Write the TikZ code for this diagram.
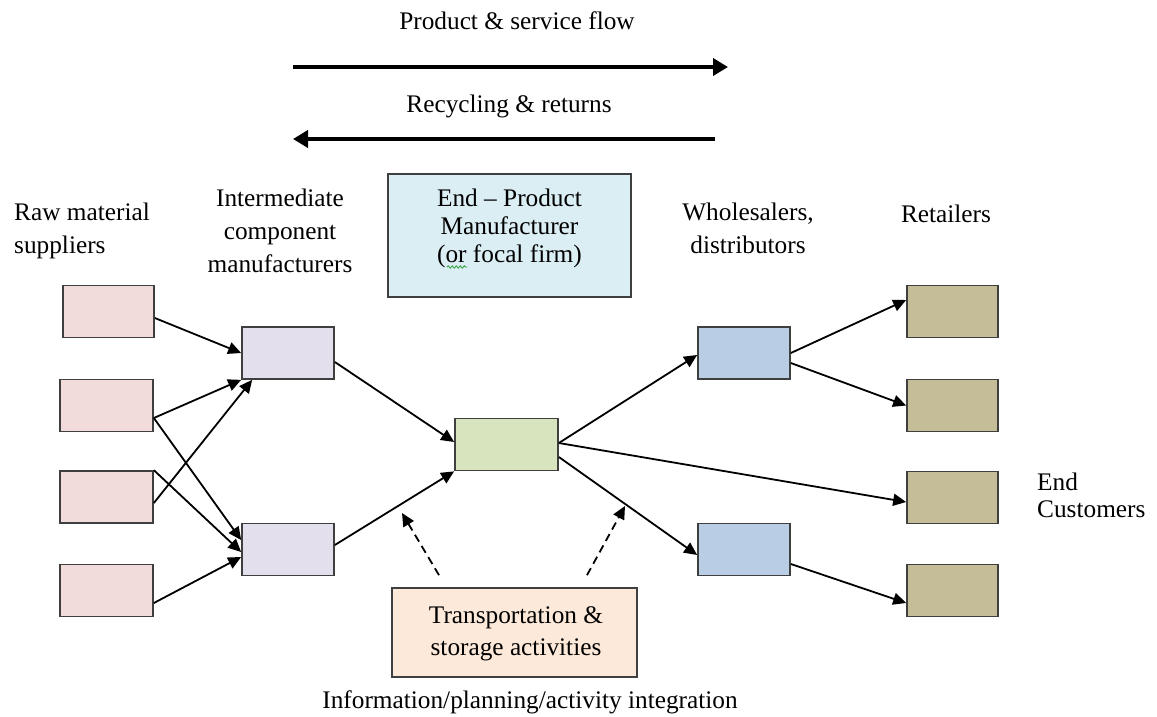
\documentclass[tikz,border=0pt]{standalone}
\usepackage{fontspec}
\setmainfont{Liberation Serif}
\usetikzlibrary{arrows.meta,decorations.pathmorphing}

\definecolor{boxline}{HTML}{3F3F3F}
\definecolor{rawfill}{HTML}{F2DCDB}
\definecolor{midfill}{HTML}{E4DFEC}
\definecolor{focalfill}{HTML}{D7E4BD}
\definecolor{distfill}{HTML}{B9CDE5}
\definecolor{retailfill}{HTML}{C4BD97}
\definecolor{headfill}{HTML}{DBEEF4}
\definecolor{transfill}{HTML}{FDE9D9}
\definecolor{spellgreen}{HTML}{2E9E3E}

\begin{document}
\begin{tikzpicture}[x=1pt,y=-1pt,
  box/.style={draw=boxline, line width=1.7pt, inner sep=0pt,
              minimum width=91pt, minimum height=52pt},
  flow/.style={-{Triangle[length=13pt,width=12pt]}, line width=1.8pt},
  support/.style={flow, dash pattern=on 8pt off 5pt},
  bigflow/.style={-{Triangle[length=15pt,width=17pt]}, line width=4pt},
  lbl/.style={inner sep=0pt, anchor=base, font=\fontsize{25.3}{33}\selectfont},
]
\useasboundingbox (0,0) rectangle (1157,716);

% ---- headline flows ----
\coordinate (pfA) at (293,67);
\coordinate (pfB) at (728,67);
\coordinate (rrA) at (715,139);
\coordinate (rrB) at (293,139);
\node[lbl] (pflabel) at (517,29) {Product \& service flow};
\draw[bigflow] (pfA) -- (pfB);
\node[lbl] (rrlabel) at (509,112) {Recycling \& returns};
\draw[bigflow] (rrA) -- (rrB);

% ---- tier captions (base = baseline of the last line) ----
\node[lbl, align=left, anchor=base west] (rawcap) at (14,253) {Raw material\\suppliers};
\node[lbl, align=center] (midcap) at (280,272) {Intermediate\\component\\manufacturers};
\node[lbl, align=center] (distcap) at (748,253) {Wholesalers,\\distributors};
\node[lbl] (retcap) at (946,222) {Retailers};
\node[lbl, align=left, anchor=base west, font=\fontsize{25.3}{27}\selectfont] (custcap) at (1037,517) {End\\Customers};
\node[lbl] (infocap) at (530,708) {Information/planning/activity integration};

% ---- focal firm caption box ----
\node[box, fill=headfill, minimum width=243pt, minimum height=123pt] (focalcap) at (509.5,235.5) {};
\node[lbl, align=center, font=\fontsize{25.3}{28}\selectfont] (focaltext) at (509.5,262)
  {End – Product\\Manufacturer\\(or focal firm)};
\draw[spellgreen, line width=0.8pt, decorate,
      decoration={snake, amplitude=1.2pt, segment length=4pt}] (447,267) -- (467,267);

% ---- supply chain boxes ----
\node[box, fill=rawfill] (raw1) at (108.5,311.5) {};
\node[box, fill=rawfill, minimum width=93pt] (raw2) at (106.5,405.5) {};
\node[box, fill=rawfill, minimum width=93pt] (raw3) at (106.5,497) {};
\node[box, fill=rawfill, minimum width=93pt] (raw4) at (106.5,590.5) {};

\node[box, fill=midfill, minimum width=92pt] (mid1) at (288,353) {};
\node[box, fill=midfill, minimum width=92pt] (mid2) at (288,549.5) {};

\node[box, fill=focalfill, minimum width=103pt] (focal) at (506.5,444.5) {};

\node[box, fill=distfill, minimum width=92pt] (dist1) at (744,353) {};
\node[box, fill=distfill, minimum width=92pt] (dist2) at (744,549.5) {};

\node[box, fill=retailfill] (ret1) at (952.5,311.5) {};
\node[box, fill=retailfill] (ret2) at (952.5,405.5) {};
\node[box, fill=retailfill] (ret3) at (952.5,497.5) {};
\node[box, fill=retailfill] (ret4) at (952.5,590.5) {};

\node[box, fill=transfill, minimum width=245pt, minimum height=89pt] (trans) at (514.5,632.5) {};
\node[lbl, align=center, font=\fontsize{25.3}{32}\selectfont] (transtext) at (516,655)
  {Transportation \&\\storage activities};

% ---- material flows ----
\draw[flow] ([yshift=-6.5pt]raw1.east) -- (mid1.west);
\draw[flow] ([yshift=-12.5pt]raw2.east) -- (mid1.south west);
\draw[flow] ([yshift=-6pt]raw3.east) -- ([xshift=11pt]mid1.south west);
\draw[flow] ([yshift=-12.5pt]raw2.east) -- ([yshift=9.5pt]mid2.west);
\draw[flow] (raw3.north east) -- ([yshift=-2.5pt]mid2.west);
\draw[flow] ([yshift=-12.5pt]raw4.east) -- ([yshift=-7.5pt]mid2.west);

\draw[flow] ([yshift=-9pt]mid1.east) -- ([yshift=2.5pt]focal.west);
\draw[flow] ([yshift=4.5pt]mid2.east) -- (focal.south west);

\draw[flow] ([yshift=1.5pt]focal.east) -- ([yshift=-2pt]dist1.west);
\draw[flow] ([yshift=1.5pt]focal.east) -- ([yshift=-4.5pt]ret3.west);
\draw[flow] ([yshift=-12.5pt]focal.east) -- ([yshift=-5.5pt]dist2.west);

\draw[flow] (dist1.east) -- ([yshift=11.5pt]ret1.west);
\draw[flow] ([yshift=-10pt]dist1.east) -- (ret2.west);
\draw[flow] ([yshift=-14.5pt]dist2.east) -- ([yshift=-12.5pt]ret4.west);

% ---- logistics support ----
\coordinate (supL) at (402,513);
\coordinate (supR) at (625,506);
\draw[support] ([shift={(-75.5pt,12pt)}]trans.north) -- (supL);
\draw[support] ([shift={(72.5pt,12pt)}]trans.north) -- (supR);
\end{tikzpicture}
\end{document}
